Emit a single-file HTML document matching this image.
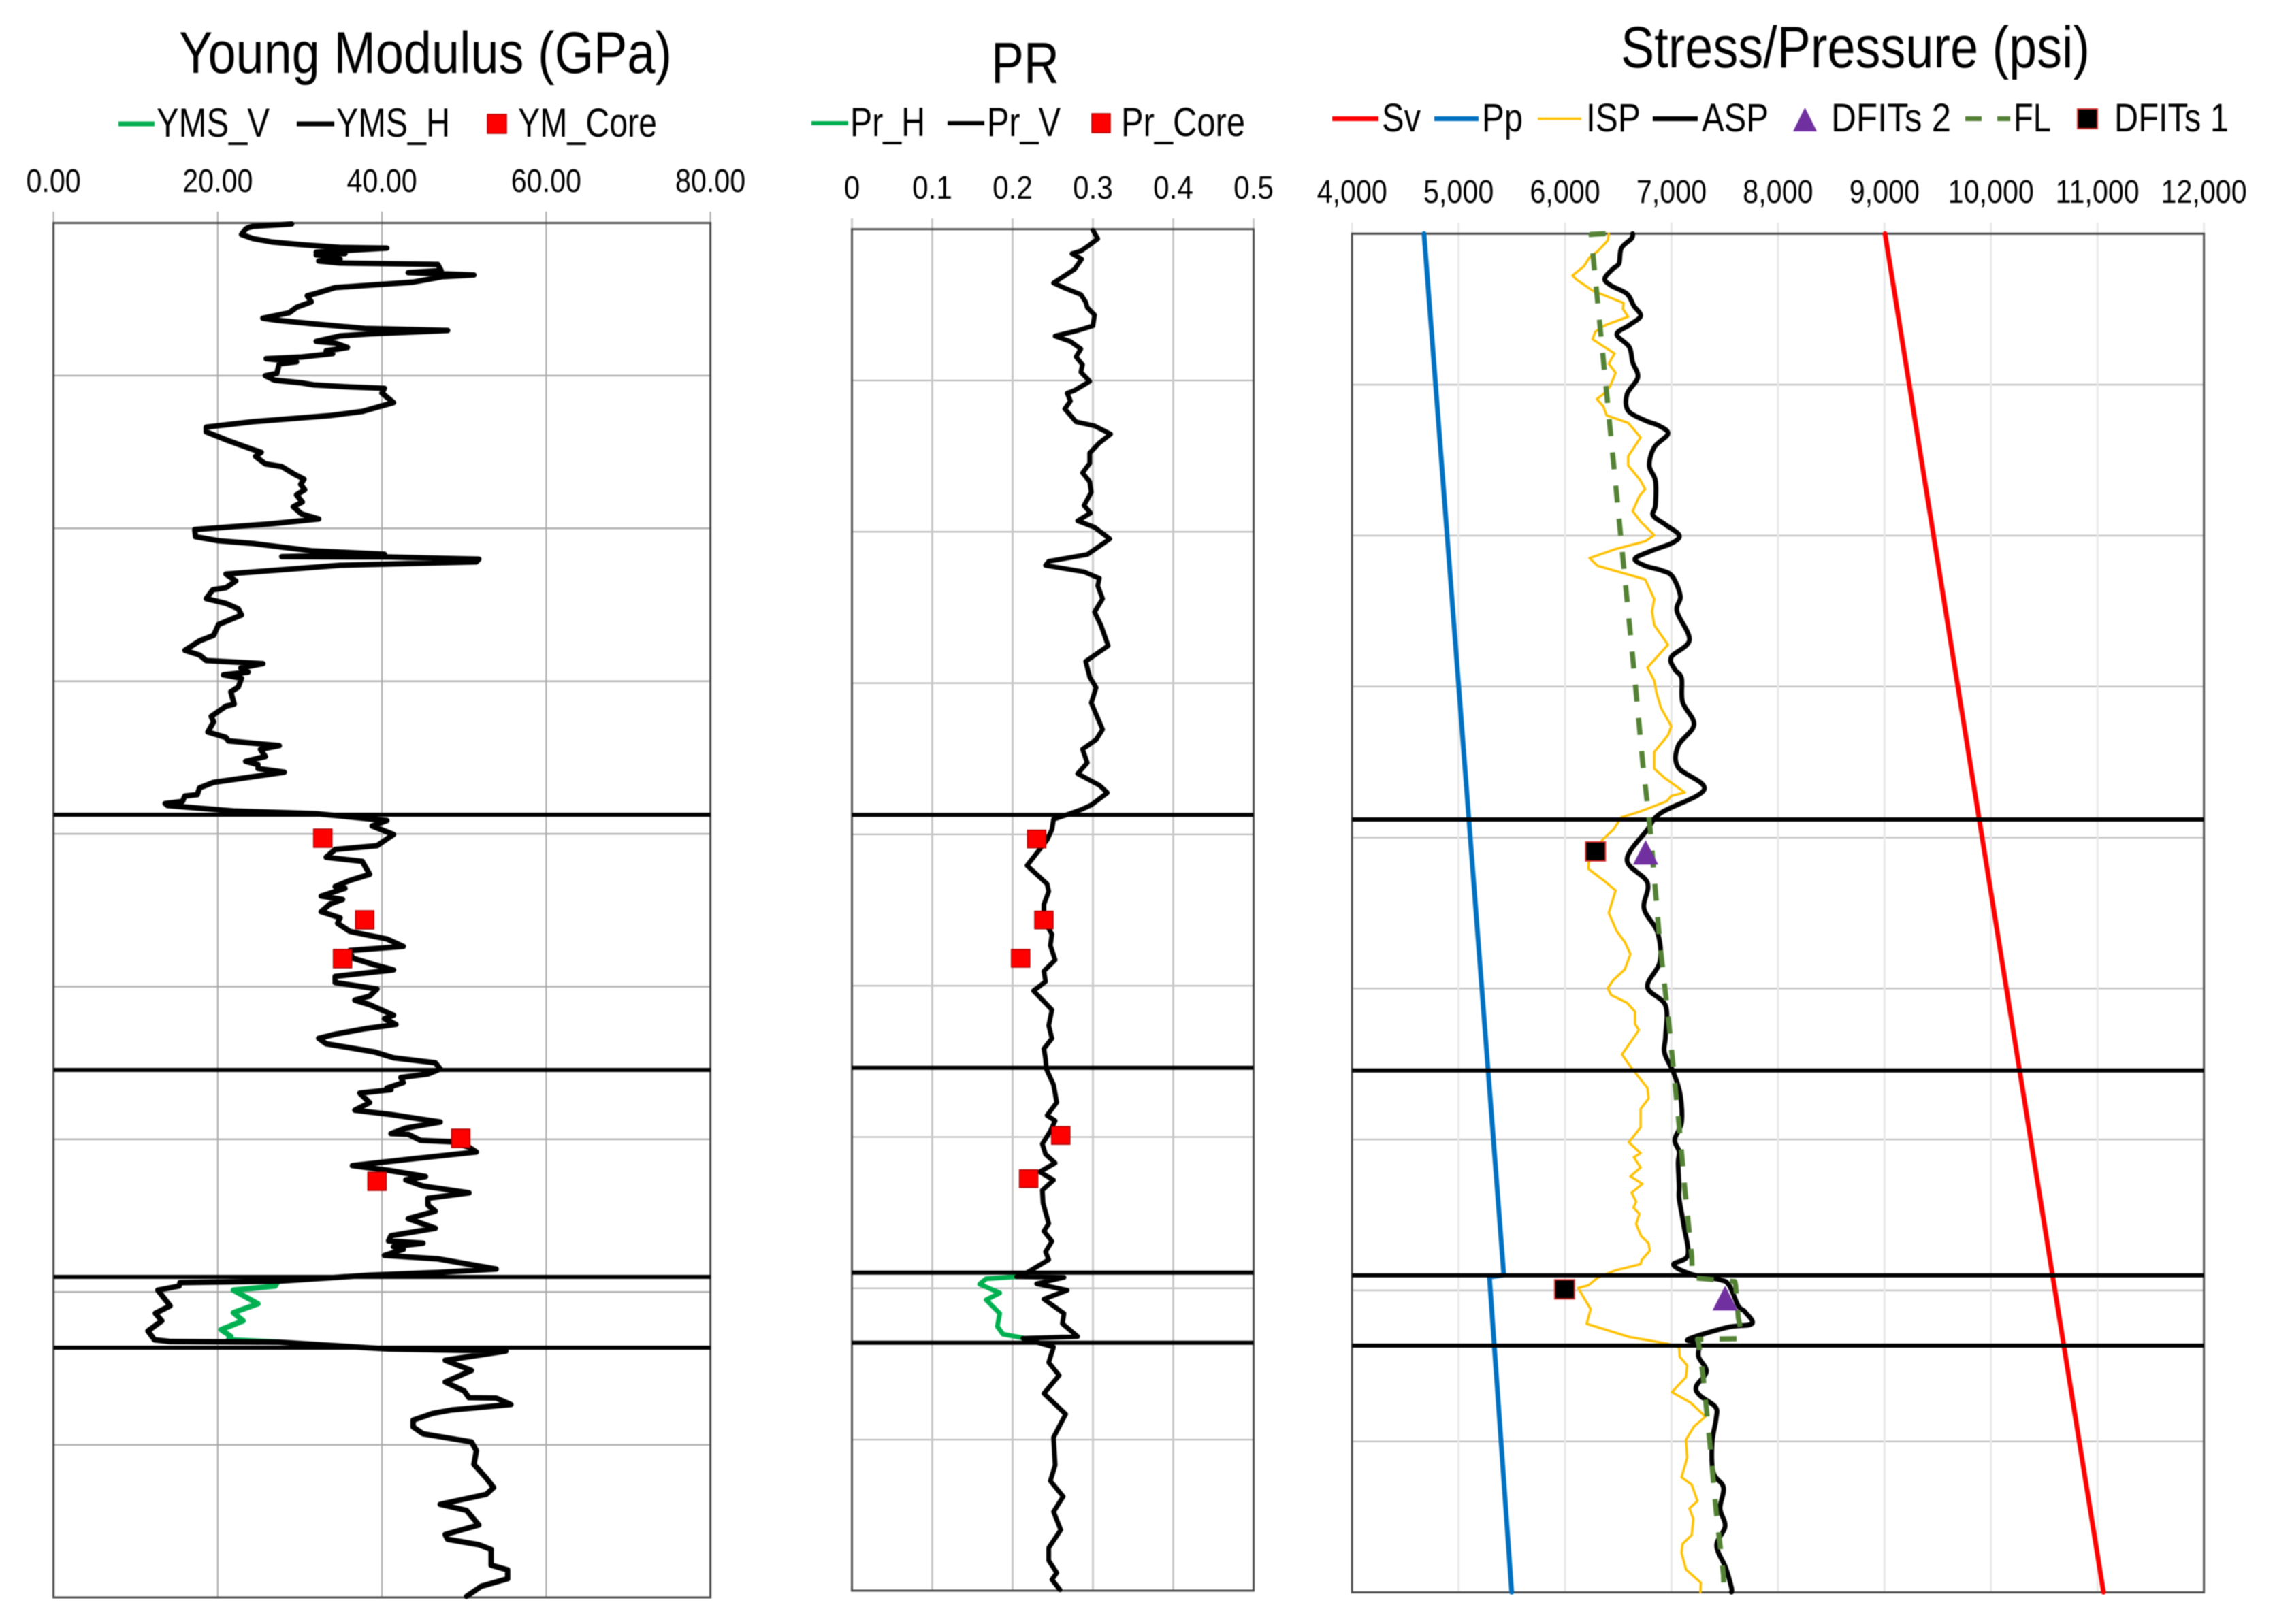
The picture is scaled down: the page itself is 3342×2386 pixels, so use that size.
<!DOCTYPE html>
<html lang="en">
<head>
<meta charset="utf-8">
<title>Geomechanical log tracks</title>
<style>
html,body{margin:0;padding:0;background:#fff;}
svg{display:block;filter:blur(0.7px);}
text{font-family:"Liberation Sans",sans-serif;fill:#000;}
</style>
</head>
<body>
<svg id="chart" xmlns="http://www.w3.org/2000/svg" width="3342" height="2386" viewBox="0 0 3342 2386">
<rect width="3342" height="2386" fill="#ffffff"/>

<g>
  <text x="263" y="107" font-size="86" textLength="724" lengthAdjust="spacingAndGlyphs">Young Modulus (GPa)</text>
  <g>
    <line x1="174" y1="182" x2="227" y2="182" stroke="#00b050" stroke-width="7"/>
    <text x="230" y="201" font-size="60" textLength="166" lengthAdjust="spacingAndGlyphs">YMS_V</text>
  </g>
  <g>
    <line x1="436" y1="182" x2="491" y2="182" stroke="#000" stroke-width="7"/>
    <text x="494" y="201" font-size="60" textLength="167" lengthAdjust="spacingAndGlyphs">YMS_H</text>
  </g>
  <g>
    <rect x="716" y="168" width="28" height="28" fill="#ff0000" stroke="#a80000" stroke-width="1.5"/>
    <text x="761" y="201" font-size="60" textLength="204" lengthAdjust="spacingAndGlyphs">YM_Core</text>
  </g>
</g>

<g>
  <text x="1456" y="122" font-size="85" textLength="100" lengthAdjust="spacingAndGlyphs">PR</text>
  <g>
    <line x1="1192" y1="181" x2="1246" y2="181" stroke="#00b050" stroke-width="6"/>
    <text x="1249" y="200" font-size="60" textLength="110" lengthAdjust="spacingAndGlyphs">Pr_H</text>
  </g>
  <g>
    <line x1="1392" y1="181" x2="1446" y2="181" stroke="#000" stroke-width="6"/>
    <text x="1450" y="200" font-size="60" textLength="108" lengthAdjust="spacingAndGlyphs">Pr_V</text>
  </g>
  <g>
    <rect x="1604" y="167" width="27" height="28" fill="#ff0000" stroke="#a80000" stroke-width="1.5"/>
    <text x="1647" y="200" font-size="60" textLength="182" lengthAdjust="spacingAndGlyphs">Pr_Core</text>
  </g>
</g>

<g>
  <text x="2381" y="99" font-size="86" textLength="689" lengthAdjust="spacingAndGlyphs">Stress/Pressure (psi)</text>
  <g>
    <line x1="1957" y1="174.500" x2="2025" y2="174.500" stroke="#ff0000" stroke-width="7"/>
    <text x="2030" y="193" font-size="58" textLength="57" lengthAdjust="spacingAndGlyphs">Sv</text>
  </g>
  <g>
    <line x1="2107" y1="174.500" x2="2172" y2="174.500" stroke="#0070c0" stroke-width="7"/>
    <text x="2177" y="193" font-size="58" textLength="60" lengthAdjust="spacingAndGlyphs">Pp</text>
  </g>
  <g>
    <line x1="2259" y1="174.500" x2="2323" y2="174.500" stroke="#ffc000" stroke-width="3.500"/>
    <text x="2330" y="193" font-size="58" textLength="80" lengthAdjust="spacingAndGlyphs">ISP</text>
  </g>
  <g>
    <line x1="2428" y1="174.500" x2="2494" y2="174.500" stroke="#000" stroke-width="7"/>
    <text x="2500" y="193" font-size="58" textLength="98" lengthAdjust="spacingAndGlyphs">ASP</text>
  </g>
  <g>
    <polygon points="2651.500,158 2669,193 2634,193" fill="#7030a0"/>
    <text x="2690" y="193" font-size="58" textLength="176" lengthAdjust="spacingAndGlyphs">DFITs 2</text>
  </g>
  <g>
    <line x1="2887" y1="174.500" x2="2911" y2="174.500" stroke="#548235" stroke-width="7"/>
    <line x1="2934" y1="174.500" x2="2953" y2="174.500" stroke="#548235" stroke-width="7"/>
    <text x="2958" y="193" font-size="58" textLength="55" lengthAdjust="spacingAndGlyphs">FL</text>
  </g>
  <g>
    <rect x="3052" y="160" width="29" height="29" fill="#000" stroke="#e03030" stroke-width="2"/>
    <text x="3106" y="193" font-size="58" textLength="168" lengthAdjust="spacingAndGlyphs">DFITs 1</text>
  </g>
</g>

<g id="track-ym"></g>
<g id="track-pr"></g>
<g id="track-stress"></g>
</svg>

<script>
/* ---------- Young modulus track data ---------- */
const ymTickValues = [0, 20, 40, 60, 80];
const ymTickLabels = ["0.00", "20.00", "40.00", "60.00", "80.00"];
const ymZoneDepths = [869.5, 1244.5, 1548.5, 1652.5];
const ymsHDepth = [1.5,5,7,9,17,23,28,32,36,37,43,45,47,49,53,56,59,61,70,73,76.5,79,87,95,103.5,107,116,124,132,140,143,148,155,158,163,166,174,176.5,183,188,192,197,199.5,204,207,221,224.5,231,235,238,241,243,250,264,277,283,292,300,307,320,333,337,343,354,358,369,376.5,384,392,399.5,410,417,427.5,435,442,450.5,461,467,471,
481.7,486.8,490.4,490.9,494,498,503,516,526,536,539,552,559,567,576,590,606,614,628,635,643,647.5,654,660,664,669,682,689,707,710,725,733,748,756,761,768,773.5,784,791,796,801.6,807,822,830,840,842,850,853,856,864,868,878,886,898.5,915,920.5,932,938,957,966,975,977.6,989,994,1000.5,1012,1021,1029,1041,1052,1063,1069,1080,1090,1097.5,1107,1116,1125.5,1136,1142,1148.5,1164,1169,1177.6,1184,1192,1198,1206,1218,1226.6,1234,1243,1250.5,1255.6,1263,1271,
1273.5,1278.5,1292.5,1303.6,1310,1321,1330,1338,1339,1348,1350,1358,1365,1375,1385,1392,1401,1406,1415,1425,1433,1443,1452,1463,1477,1488,1495.6,1499,1504,1508,1517,1522,1537,1542,1546,1554.7,1557,1562,1568,1591,1602,1613,1628,1641,1643.5,1644.5,1654.5,1657.5,1671,1686,1703,1716,1726,1726.5,1736,1744,1749,1759,1769,1779,1791,1804,1824,1844,1858,1868,1882.6,1891.6,1913,1927,1934,1942,1949,1972,1979,1992,2003,2018];
const ymsHValue = [29.0,24.3,23.7,23.4,22.9,24.3,26.6,30.2,34.9,40.6,32.0,35.5,32.0,34.3,34.9,32.3,34.9,46.8,47.2,43.2,51.2,47.4,43.8,34.3,32.0,30.9,31.4,29.6,28.7,25.5,27.2,31.4,37.9,48.0,38.5,34.9,32.0,34.3,35.8,33.2,34.0,30.2,25.9,29.6,27.5,27.2,25.8,26.9,30.2,31.7,36.1,40.3,40.0,41.4,37.6,33.7,24.3,18.6,18.6,21.3,24.3,25.3,24.6,25.8,27.8,29.3,30.5,30.1,30.6,29.6,30.3,29.2,30.2,32.3,26.6,17.2,17.3,20.1,24.3,
31.4,40.3,27.8,40.9,51.8,51.5,34.9,21.0,22.2,21.0,19.4,18.6,21.0,22.5,22.9,20.1,19.5,17.8,16.0,17.8,18.6,25.5,22.8,23.7,20.7,22.9,22.5,21.6,22.0,21.0,19.2,19.5,18.8,21.0,21.3,27.5,25.2,25.8,23.4,24.9,24.9,28.1,19.5,17.8,17.5,16.0,15.7,13.6,13.9,21.9,32.0,40.6,38.8,41.4,39.4,34.3,33.2,37.6,38.5,36.1,34.3,35.5,32.6,35.2,33.7,32.6,34.9,34.6,36.1,40.6,42.6,36.1,36.4,39.1,41.4,34.3,34.3,39.4,38.5,36.7,38.5,41.4,40.3,41.7,37.9,34.3,32.3,33.2,39.1,41.4,46.5,47.1,45.6,42.3,42.6,40.6,
41.1,37.3,38.5,36.7,41.1,47.1,42.9,41.1,43.2,44.7,48.5,50.6,51.5,43.8,36.4,40.8,45.3,42.9,45.0,50.6,45.6,45.6,46.5,43.2,46.5,41.1,40.8,45.0,41.4,42.6,40.3,46.8,53.9,46.8,38.5,27.5,15.4,15.3,12.7,14.2,12.4,13.2,11.5,12.3,14.2,27.5,40.8,55.1,47.7,50.9,47.7,50.0,50.6,53.9,55.7,48.5,46.2,43.8,43.8,45.0,50.9,51.5,51.2,52.7,53.6,52.7,47.1,50.3,51.8,47.7,48.0,51.8,53.3,53.3,55.3,55.3,52.1,50.3];
const ymsVDepth = [1558,1562,1568,1588,1601,1613,1626,1636,1641,1644.5];
const ymsVValue = [27.2,27.0,21.9,24.9,21.9,23.1,20.4,21.6,21.3,27.5];
const ymCoreDepth = [904,1024,1081,1345,1408];
const ymCoreValue = [32.8,37.9,35.2,49.6,39.4];

/* ---------- Poisson ratio track data ---------- */
const prTickValues = [0, 0.1, 0.2, 0.3, 0.4, 0.5];
const prTickLabels = ["0", "0.1", "0.2", "0.3", "0.4", "0.5"];
const prZoneDepths = [860.5, 1232, 1533, 1636];
const prVDepth = [1.5,14,23,32,36,44,59,69,79,86,96,107,115,126,142,149,157,165,176,187.5,199,210,223.5,237,241,252.5,264,283,289,301,314,329,344,358,371,386.5,406,417,428.5,438,455,478,488,494,503.5,513,524,543,562.5,582,612,635,658,673.5,696,735,750,764,784,800,817,828,846,853,861,
867,882,897.3,935,962,973,992,1015,1036,1052.4,1073.6,1090,1105.4,1119,1139.4,1147,1170,1189,1204,1219,1234,1257,1283,1302,1310,1325,1344,1359,1372,1385,1397,1412,1431,1461,1472,1487,1502.5,1514,1533,1539,1540,1549.4,1559,1572,1593,1608,1627,1629.6,1642.4,1665,1684,1710.5,1741,1775,1816,1839,1862,1884.4,1911,1937.4,1956,1974,1984,1999];
const prVValue = [.300,.306,.296,.285,.274,.286,.277,.264,.251,.264,.285,.291,.293,.302,.300,.281,.253,.272,.285,.279,.287,.285,.296,.277,.268,.272,.265,.279,.302,.322,.308,.296,.296,.287,.296,.298,.289,.297,.281,.302,.321,.293,.245,.241,.289,.308,.306,.312,.302,.310,.319,.291,.296,.304,.298,.312,.304,.287,.293,.281,.308,.318,.298,.285,.266,
.251,.249,.243,.218,.243,.245,.239,.239,.249,.247,.253,.239,.241,.226,.243,.249,.245,.249,.239,.241,.242,.251,.255,.243,.253,.247,.237,.241,.253,.234,.251,.237,.238,.245,.239,.249,.241,.245,.218,.205,.264,.230,.268,.239,.264,.262,.281,.213,.251,.245,.258,.239,.266,.251,.253,.247,.263,.251,.260,.245,.245,.255,.249,.259];
const prHDepth = [1539,1542,1550,1563,1573,1593,1612,1623.5,1629];
const prHValue = [.205,.167,.159,.184,.167,.184,.181,.188,.213];
const prCoreDepth = [896,1015,1071.3,1331.5,1395];
const prCoreValue = [.230,.239,.210,.260,.220];

/* ---------- Stress / pressure track data ---------- */
const stressTickValues = [4000,5000,6000,7000,8000,9000,10000,11000,12000];
const stressTickLabels = ["4,000","5,000","6,000","7,000","8,000","9,000","10,000","11,000","12,000"];
const stressZoneDepths = [860.7, 1229.5, 1530.4, 1633.7];
const svDepth = [0,1996];
const svValue = [9005,11057];
const ppDepth = [0,1530,1533,1996];
const ppValue = [4676,5425,5290,5499];
const aspDepth = [0,7,21.4,43.7,51,66,76.3,88.4,106,121,134.4,147.8,166.5,189,211,236,260,274.5,282,294,314,340.6,363,399,414,427.6,443,454.4,465.6,477.6,488,494.6,503.5,532.5,555,597,622,640,653,
688,721.4,752.7,784,816.5,851,875.4,920,953.6,991.5,1027,1069.6,1106.7,1134,1179,1203.5,1232.6,1266,1306,1331,1348.6,
1365,1400.4,1418,1457,1501,1515,1529.5,1537,1545,1575.4,1584,1601.6,1607,1624.4,1630,1650,1671.6,1693.5,1706.6,1724,1741.6,1776.6,1820,1842,1873,1899,1927.5,1960,1989,1996];
const aspValue = [6635,6625,6529,6507,6454,6373,6433,6582,6646,6710,6603,6486,6603,6635,6684,6582,6593,6753,6880,6966,6838,6791,6849,6849,6827,6944,7072,7008,6817,6657,6753,6902,7008,7083,7051,7168,6998,7030,7094,
7104,7211,7062,7062,7307,6902,6774,6582,6774,6742,6870,6891,6774,6944,6944,6934,7019,7083,7094,7030,7072,
7062,7072,7072,7115,7153,7019,7200,7456,7541,7627,7690,7754,7520,7158,7254,7254,7328,7232,7264,7413,7418,7381,7392,7488,7456,7503,7424,7509,7563,7563];
const ispDepth = [0,10,26,35,48,61.6,68,84,90.6,102,110.7,122,135,144,155,166.5,176,191,204.5,224.5,236,243,253.5,267,278,299.5,327,340.6,363,375.4,385.3,407.6,423,443,452,463.4,476.7,488,508,537,555,575,604,637.5,656.7,
674.6,697,723.7,737,761.6,786,799.5,821,826,834,848.7,857.6,875.4,891,924.5,933.5,951,965,998,1025,1040.6,1058.5,1081,1096.4,1108.5,1118.7,1130,1143,1161,1170,1185.7,1205.8,1226,1255,1270.5,1286,1313,1335,1351,
1357,1372,1385,1396,1409,1422.3,1431,1440,1455,1472.6,1483.5,1494.5,1507.6,1514,1523,1534,1545,1549,1566.6,1580,1601.6,1621,1631,1636.6,1650,1663,1680,1702,1717.5,1738,1752.5,1772,1798.5,1827,1838,1862,1873,1888,1912,1925,1938.4,1962.5,1982,1996];
const ispValue = [6411,6401,6305,6230,6177,6070,6113,6262,6369,6550,6544,6593,6369,6284,6258,6369,6465,6411,6475,6422,6358,6298,6358,6390,6593,6710,6593,6593,6710,6753,6699,6635,6710,6838,6753,6475,6230,6305,6753,6838,6817,6838,6966,6774,6838,
6859,6902,6998,6966,6838,6838,6934,7125,6998,6955,6710,6529,6454,6348,6220,6220,6369,6475,6411,6486,6561,6614,6561,6454,6401,6433,6582,6657,6657,6693,6625,6535,6625,6774,6785,6710,6710,6599,6710,
6646,6710,6614,6727,6625,6668,6642,6699,6668,6715,6785,6796,6721,6710,6475,6305,6220,6124,6188,6241,6203,6604,6966,7072,7077,7147,7136,7004,7179,7318,7211,7136,7147,7094,7190,7243,7168,7205,7190,7104,7094,7136,7275,7271];
const flDepth = [0,1,30,633,657,779.5,875.4,1043,1163,1310.7,1405,1503,1534,1539.5,1545,1593,1617,1623.5,1624.4,1630,1678,1776.6,1875,1971,1996];
const flValue = [6380,6245,6262,6642,6657,6731,6800,6891,6977,7072,7126,7190,7196,7595,7602,7627,7659,7649,7243,7254,7296,7360,7418,7488,7492];
const dfits1Depth = [907.6,1551];
const dfits1Value = [6286,5996];
const dfits2Depth = [909,1564];
const dfits2Value = [6757,7503];

/* ---------- helpers ---------- */
const NS = "http://www.w3.org/2000/svg";
function linearAxis(d0, d1, r0, r1) {
  return function (v) { return r0 + (v - d0) / (d1 - d0) * (r1 - r0); };
}
function make(parent, tag, attrs) {
  const el = document.createElementNS(NS, tag);
  for (const k in attrs) el.setAttribute(k, attrs[k]);
  parent.appendChild(el);
  return el;
}
function curve(parent, depths, values, sx, sy, stroke, width, dash) {
  const pts = depths.map(function (d, i) { return sx(values[i]).toFixed(1) + "," + sy(d).toFixed(1); }).join(" ");
  const attrs = { points: pts, fill: "none", stroke: stroke, "stroke-width": width, "stroke-linejoin": "round", "stroke-linecap": dash ? "butt" : "round" };
  if (dash) attrs["stroke-dasharray"] = dash;
  return make(parent, "polyline", attrs);
}
function smoothCurve(parent, depths, values, sx, sy, stroke, width) {
  const p = depths.map(function (d, i) { return [sx(values[i]), sy(d)]; });
  let path = "M" + p[0][0].toFixed(1) + " " + p[0][1].toFixed(1);
  for (let i = 0; i < p.length - 1; i++) {
    const a = p[Math.max(i - 1, 0)], b = p[i], c = p[i + 1], e = p[Math.min(i + 2, p.length - 1)];
    const c1x = b[0] + (c[0] - a[0]) / 6, c1y = b[1] + (c[1] - a[1]) / 6;
    const c2x = c[0] - (e[0] - b[0]) / 6, c2y = c[1] - (e[1] - b[1]) / 6;
    path += "C" + c1x.toFixed(1) + " " + c1y.toFixed(1) + " " + c2x.toFixed(1) + " " + c2y.toFixed(1) + " " + c[0].toFixed(1) + " " + c[1].toFixed(1);
  }
  return make(parent, "path", { d: path, fill: "none", stroke: stroke, "stroke-width": width, "stroke-linejoin": "round", "stroke-linecap": "round" });
}
function drawFrame(g, cfg) {
  const sx = cfg.sx, sy = cfg.sy;
  const gridY = [];
  for (let d = cfg.step; d < cfg.depthMax - 1; d += cfg.step) gridY.push(d);
  gridY.forEach(function (d) {
    const el = make(g, "line", { x1: cfg.left, x2: cfg.right, y1: sy(d), y2: sy(d), stroke: cfg.hGrid, "stroke-width": cfg.hGridW });
    
    
  });
  cfg.ticks.forEach(function (v, i) {
    const el = make(g, "line", { x1: sx(v), x2: sx(v), y1: cfg.tickTop, y2: cfg.bottom, stroke: cfg.vGrid, "stroke-width": cfg.vGridW });
    
    
    const t = make(g, "text", { "font-size": 48, "text-anchor": "middle", transform: "translate(" + sx(v) + "," + cfg.labelY + ") scale(" + cfg.labelScale + ",1)" });
    t.textContent = cfg.labels[i];
    
    
  });
  const box = make(g, "rect", { x: cfg.left, y: cfg.top, width: cfg.right - cfg.left, height: cfg.bottom - cfg.top, fill: "none", stroke: "#4d4d4d", "stroke-width": 3 });
  
  
}
function drawZones(g, cfg, depths) {
  depths.forEach(function (d) {
    const el = make(g, "line", { x1: cfg.left, x2: cfg.right, y1: cfg.sy(d), y2: cfg.sy(d), stroke: "#000", "stroke-width": 6 });
    
    
  });
}

/* ---------- Young modulus track ---------- */
(function () {
  const g = document.getElementById("track-ym");
  const cfg = { left: 78.6, right: 1043.6, top: 327.5, bottom: 2347, tickTop: 311, depthMax: 2019.5, step: 224.4,
    ticks: ymTickValues, labels: ymTickLabels, labelY: 282, labelScale: 0.86,
    hGrid: "#b0b0b0", hGridW: 2.5, vGrid: "#a8a8a8", vGridW: 2 };
  cfg.sx = linearAxis(0, 80, cfg.left, cfg.right);
  cfg.sy = linearAxis(0, cfg.depthMax, cfg.top, cfg.bottom);
  drawFrame(g, cfg);
  drawZones(g, cfg, ymZoneDepths);
  const v = curve(g, ymsVDepth, ymsVValue, cfg.sx, cfg.sy, "#00b050", 8);
  
  
  const h = curve(g, ymsHDepth, ymsHValue, cfg.sx, cfg.sy, "#000", 8);
  
  
  ymCoreDepth.forEach(function (d, i) {
    const el = make(g, "rect", { x: cfg.sx(ymCoreValue[i]) - 13.5, y: cfg.sy(d) - 13.5, width: 27, height: 27, fill: "#ff0000", stroke: "#a80000", "stroke-width": 1.5 });
    
    
  });
})();

/* ---------- Poisson ratio track ---------- */
(function () {
  const g = document.getElementById("track-pr");
  const cfg = { left: 1251.5, right: 1841.5, top: 336.7, bottom: 2337, tickTop: 321, depthMax: 2000.3, step: 222.3,
    ticks: prTickValues, labels: prTickLabels, labelY: 292, labelScale: 0.88,
    hGrid: "#b0b0b0", hGridW: 2, vGrid: "#c8c8c8", vGridW: 3 };
  cfg.sx = linearAxis(0, 0.5, cfg.left, cfg.right);
  cfg.sy = linearAxis(0, cfg.depthMax, cfg.top, cfg.bottom);
  drawFrame(g, cfg);
  drawZones(g, cfg, prZoneDepths);
  const h = curve(g, prHDepth, prHValue, cfg.sx, cfg.sy, "#00b050", 7);
  
  
  const v = curve(g, prVDepth, prVValue, cfg.sx, cfg.sy, "#000", 7);
  
  
  prCoreDepth.forEach(function (d, i) {
    const el = make(g, "rect", { x: cfg.sx(prCoreValue[i]) - 13.5, y: cfg.sy(d) - 13, width: 27, height: 26, fill: "#ff0000", stroke: "#a80000", "stroke-width": 1.5 });
    
    
  });
})();

/* ---------- Stress / pressure track ---------- */
(function () {
  const g = document.getElementById("track-stress");
  const cfg = { left: 1986.2, right: 3237.6, top: 343.3, bottom: 2339.5, tickTop: 327, depthMax: 1996.2, step: 221.8,
    ticks: stressTickValues, labels: stressTickLabels, labelY: 298, labelScale: 0.86,
    hGrid: "#c4c4c4", hGridW: 2.5, vGrid: "#e8e8e8", vGridW: 3 };
  cfg.sx = linearAxis(4000, 12000, cfg.left, cfg.right);
  cfg.sy = linearAxis(0, cfg.depthMax, cfg.top, cfg.bottom);
  drawFrame(g, cfg);
  const sv = curve(g, svDepth, svValue, cfg.sx, cfg.sy, "#ff0000", 7);
  
  
  const pp = curve(g, ppDepth, ppValue, cfg.sx, cfg.sy, "#0070c0", 7);
  
  
  const isp = curve(g, ispDepth, ispValue, cfg.sx, cfg.sy, "#ffc000", 3.5);
  
  
  drawZones(g, cfg, stressZoneDepths);
  const asp = smoothCurve(g, aspDepth, aspValue, cfg.sx, cfg.sy, "#000", 7);
  
  
  const fl = curve(g, flDepth, flValue, cfg.sx, cfg.sy, "#548235", 7.5, "25 24");
  
  
  dfits2Depth.forEach(function (d, i) {
    const x = cfg.sx(dfits2Value[i]), y = cfg.sy(d);
    const el = make(g, "polygon", { points: x + "," + (y - 18) + " " + (x + 18.5) + "," + (y + 18) + " " + (x - 18.5) + "," + (y + 18), fill: "#7030a0" });
    
    
  });
  dfits1Depth.forEach(function (d, i) {
    const el = make(g, "rect", { x: cfg.sx(dfits1Value[i]) - 14.5, y: cfg.sy(d) - 14, width: 29, height: 28, fill: "#000", stroke: "#e03030", "stroke-width": 2 });
    
    
  });
})();
</script>
</body>
</html>
